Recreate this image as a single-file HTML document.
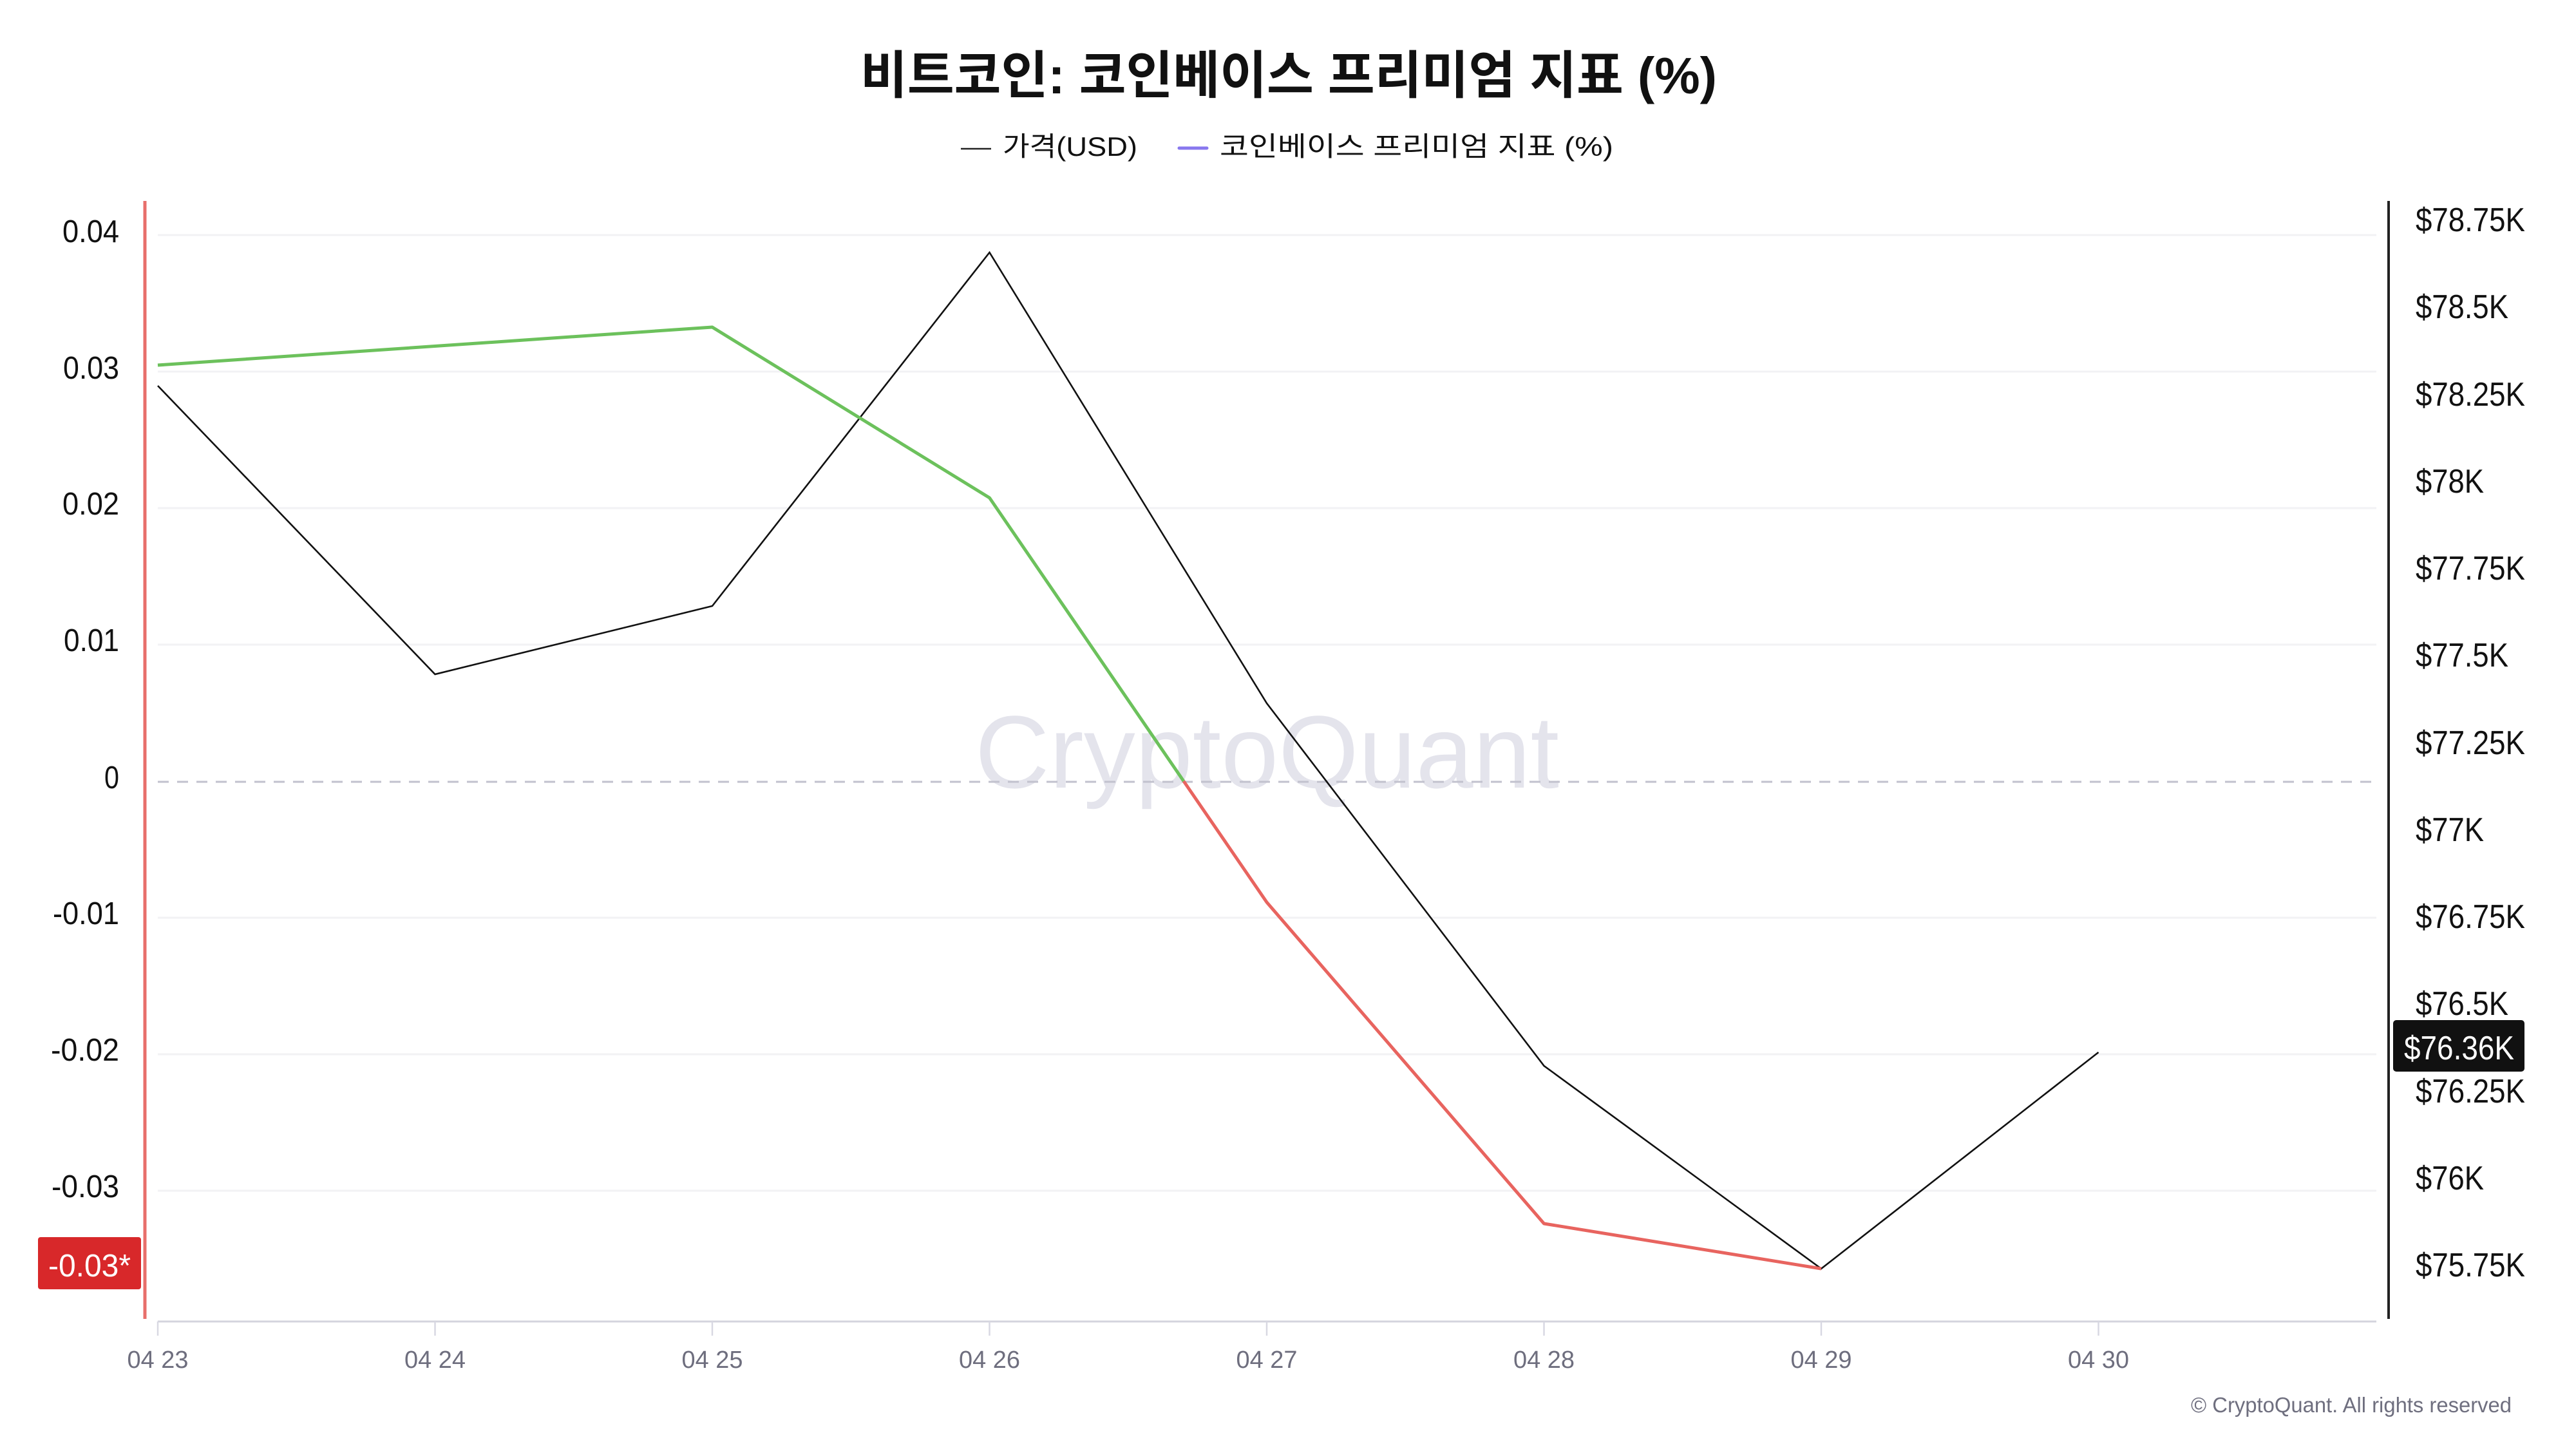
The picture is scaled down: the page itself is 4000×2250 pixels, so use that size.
<!DOCTYPE html>
<html>
<head>
<meta charset="utf-8">
<style>
  html, body { margin:0; padding:0; background:#ffffff; }
  body { width:4000px; height:2250px; overflow:hidden; }
  svg { display:block; }
  .lat { font-family: "Liberation Sans", "Noto Sans CJK KR", sans-serif; }
  .kr { font-family: "Liberation Sans", "Noto Sans CJK KR", sans-serif; }
</style>
</head>
<body>
<svg width="4000" height="2250" viewBox="0 0 4000 2250" xmlns="http://www.w3.org/2000/svg">
  <rect x="0" y="0" width="4000" height="2250" fill="#ffffff"/>

  <!-- Title -->
  <text class="kr" x="1336" y="145" font-size="80" font-weight="700" fill="#111111" textLength="1330" lengthAdjust="spacingAndGlyphs">비트코인: 코인베이스 프리미엄 지표 (%)</text>

  <!-- Legend -->
  <line x1="1492" y1="231" x2="1539" y2="231" stroke="#222222" stroke-width="2.5"/>
  <text class="kr" x="1557" y="242" font-size="42" fill="#111111" textLength="209" lengthAdjust="spacingAndGlyphs">가격(USD)</text>
  <line x1="1831" y1="230" x2="1874" y2="230" stroke="#8878ee" stroke-width="5" stroke-linecap="round"/>
  <text class="kr" x="1894" y="242" font-size="42" fill="#111111" textLength="611" lengthAdjust="spacingAndGlyphs">코인베이스 프리미엄 지표 (%)</text>

  <!-- Gridlines -->
  <g stroke="#f2f2f4" stroke-width="3">
    <line x1="245" y1="365" x2="3690" y2="365"/>
    <line x1="245" y1="577" x2="3690" y2="577"/>
    <line x1="245" y1="789" x2="3690" y2="789"/>
    <line x1="245" y1="1001" x2="3690" y2="1001"/>
    <line x1="245" y1="1425" x2="3690" y2="1425"/>
    <line x1="245" y1="1637" x2="3690" y2="1637"/>
    <line x1="245" y1="1849" x2="3690" y2="1849"/>
  </g>

  <!-- Watermark -->
  <text class="lat" x="1514" y="1223" font-size="160" fill="#e4e4ec" textLength="907" lengthAdjust="spacingAndGlyphs">CryptoQuant</text>

  <!-- Zero dashed line -->
  <line x1="245" y1="1214" x2="3690" y2="1214" stroke="#c2c2ce" stroke-width="3" stroke-dasharray="17 13"/>

  <!-- X axis -->
  <line x1="245" y1="2052" x2="3690" y2="2052" stroke="#d4d4de" stroke-width="3"/>
  <g stroke="#d8d8e2" stroke-width="2.5">
    <line x1="245" y1="2052" x2="245" y2="2074"/>
    <line x1="675.5" y1="2052" x2="675.5" y2="2074"/>
    <line x1="1106" y1="2052" x2="1106" y2="2074"/>
    <line x1="1536.5" y1="2052" x2="1536.5" y2="2074"/>
    <line x1="1967" y1="2052" x2="1967" y2="2074"/>
    <line x1="2397.5" y1="2052" x2="2397.5" y2="2074"/>
    <line x1="2828" y1="2052" x2="2828" y2="2074"/>
    <line x1="3258.5" y1="2052" x2="3258.5" y2="2074"/>
  </g>
  <g class="lat" font-size="38" fill="#6e6e7e" text-anchor="middle">
    <text x="245" y="2124" textLength="95" lengthAdjust="spacingAndGlyphs">04 23</text>
    <text x="675.5" y="2124" textLength="95" lengthAdjust="spacingAndGlyphs">04 24</text>
    <text x="1106" y="2124" textLength="95" lengthAdjust="spacingAndGlyphs">04 25</text>
    <text x="1536.5" y="2124" textLength="95" lengthAdjust="spacingAndGlyphs">04 26</text>
    <text x="1967" y="2124" textLength="95" lengthAdjust="spacingAndGlyphs">04 27</text>
    <text x="2397.5" y="2124" textLength="95" lengthAdjust="spacingAndGlyphs">04 28</text>
    <text x="2828" y="2124" textLength="95" lengthAdjust="spacingAndGlyphs">04 29</text>
    <text x="3258.5" y="2124" textLength="95" lengthAdjust="spacingAndGlyphs">04 30</text>
  </g>

  <!-- Left axis line (red) -->
  <line x1="225" y1="312" x2="225" y2="2048" stroke="#e86f6b" stroke-width="5"/>

  <!-- Left axis labels -->
  <g class="lat" font-size="49" fill="#111111" text-anchor="end">
    <text x="185" y="376" textLength="88" lengthAdjust="spacingAndGlyphs">0.04</text>
    <text x="185" y="588" textLength="87" lengthAdjust="spacingAndGlyphs">0.03</text>
    <text x="185" y="799" textLength="88" lengthAdjust="spacingAndGlyphs">0.02</text>
    <text x="185" y="1011" textLength="86" lengthAdjust="spacingAndGlyphs">0.01</text>
    <text x="185" y="1224" textLength="23" lengthAdjust="spacingAndGlyphs">0</text>
    <text x="185" y="1435" textLength="103" lengthAdjust="spacingAndGlyphs">-0.01</text>
    <text x="185" y="1647" textLength="106" lengthAdjust="spacingAndGlyphs">-0.02</text>
    <text x="185" y="1859" textLength="105" lengthAdjust="spacingAndGlyphs">-0.03</text>
  </g>

  <!-- Left current value box -->
  <rect x="59" y="1921" width="160" height="81" rx="4" ry="4" fill="#d8282a"/>
  <text class="lat" x="75" y="1982" font-size="49" fill="#ffffff" textLength="128" lengthAdjust="spacingAndGlyphs">-0.03*</text>

  <!-- Right axis line -->
  <line x1="3709" y1="312" x2="3709" y2="2048" stroke="#222222" stroke-width="4"/>

  <!-- Right axis labels -->
  <g class="lat" font-size="52" fill="#111111">
    <text x="3751" y="359" textLength="170" lengthAdjust="spacingAndGlyphs">$78.75K</text>
    <text x="3751" y="494" textLength="144" lengthAdjust="spacingAndGlyphs">$78.5K</text>
    <text x="3751" y="630" textLength="170" lengthAdjust="spacingAndGlyphs">$78.25K</text>
    <text x="3751" y="765" textLength="106" lengthAdjust="spacingAndGlyphs">$78K</text>
    <text x="3751" y="900" textLength="170" lengthAdjust="spacingAndGlyphs">$77.75K</text>
    <text x="3751" y="1035" textLength="144" lengthAdjust="spacingAndGlyphs">$77.5K</text>
    <text x="3751" y="1171" textLength="170" lengthAdjust="spacingAndGlyphs">$77.25K</text>
    <text x="3751" y="1306" textLength="106" lengthAdjust="spacingAndGlyphs">$77K</text>
    <text x="3751" y="1441" textLength="170" lengthAdjust="spacingAndGlyphs">$76.75K</text>
    <text x="3751" y="1576" textLength="144" lengthAdjust="spacingAndGlyphs">$76.5K</text>
    <text x="3751" y="1712" textLength="170" lengthAdjust="spacingAndGlyphs">$76.25K</text>
    <text x="3751" y="1847" textLength="106" lengthAdjust="spacingAndGlyphs">$76K</text>
    <text x="3751" y="1982" textLength="170" lengthAdjust="spacingAndGlyphs">$75.75K</text>
  </g>

  <!-- Series: price (black) -->
  <polyline fill="none" stroke="#111111" stroke-width="2.6" stroke-linejoin="miter"
    points="245,599 675.5,1047 1106,941 1536.5,392 1967,1092 2397.5,1655 2828,1970 3258.5,1634"/>

  <!-- Series: premium (green positive / red negative) -->
  <polyline fill="none" stroke="#6cc15c" stroke-width="5" stroke-linejoin="round"
    points="245,567 1106,508 1536.5,773 1838,1213"/>
  <polyline fill="none" stroke="#e8645f" stroke-width="5" stroke-linejoin="round"
    points="1838,1213 1967,1401 2397.5,1900 2828,1970"/>

  <!-- Right current price box -->
  <rect x="3716" y="1584" width="204" height="80" rx="5" ry="5" fill="#111111"/>
  <text class="lat" x="3733" y="1645" font-size="52" fill="#ffffff" textLength="171" lengthAdjust="spacingAndGlyphs">$76.36K</text>

  <!-- Copyright -->
  <text class="lat" x="3402" y="2193" font-size="33" fill="#6f6f7f" textLength="498" lengthAdjust="spacingAndGlyphs">© CryptoQuant. All rights reserved</text>
</svg>
</body>
</html>
